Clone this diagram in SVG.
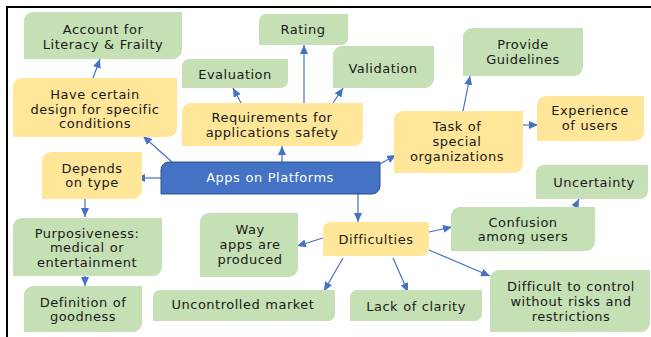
<svg xmlns="http://www.w3.org/2000/svg" width="651" height="337" viewBox="0 0 651 337">
  <style>
    .g { fill: #C5E0B4; }
    .y { fill: #FFE699; }
    .b { fill: #4472C4; stroke: #2F528F; stroke-width: 1; }
    text { font-family: "DejaVu Sans", Verdana, sans-serif; font-size: 13px; fill: #1a1a1a; text-anchor: middle; letter-spacing: 0.5px; word-spacing: 0.5px; }
    .w { fill: #ffffff; }
    .c { fill: none; stroke: #4472C4; stroke-width: 1.2; marker-end: url(#ah); }
  </style>
  <defs>
    <marker id="ah" markerUnits="userSpaceOnUse" markerWidth="9" markerHeight="8" refX="9" refY="4" orient="auto">
      <path d="M0,0 L9,4 L0,8 Z" fill="#4472C4"/>
    </marker>
  </defs>
  <rect width="651" height="337" fill="#ffffff"/>
  <!-- frame -->
  <path d="M6 7 H651 M7 6 V337" fill="none" stroke="#000" stroke-width="2"/>

  <g id="connectors">
    <path class="c" d="M93 78 L100 59"/>
    <path class="c" d="M172 162 L143 136"/>
    <path class="c" d="M241 103 L233 88"/>
    <path class="c" d="M304 103 L304 45"/>
    <path class="c" d="M333 103 L343 88"/>
    <path class="c" d="M282 162 L282 146"/>
    <path class="c" d="M161 178 L136 178"/>
    <path class="c" d="M380 164 L396 155"/>
    <path class="c" d="M358 194 L358 222"/>
    <path class="c" d="M85 199 L85 217"/>
    <path class="c" d="M85 276 L85 286"/>
    <path class="c" d="M323 238 L297 246"/>
    <path class="c" d="M343 258 L324 291"/>
    <path class="c" d="M393 258 L408 292"/>
    <path class="c" d="M429 250 L490 276"/>
    <path class="c" d="M429 232 L452 227"/>
    <path class="c" d="M575 207 L579 199"/>
    <path class="c" d="M463 111 L470 76"/>
    <path class="c" d="M523 125 L538 125"/>
  </g>

  <g id="account">
    <path class="g" d="M33 12 H182 V50 A9 9 0 0 1 173 59 H24 V21 A9 9 0 0 1 33 12Z"/>
    <text x="103" y="34">Account for</text>
    <text x="103" y="49">Literacy &amp; Frailty</text>
  </g>
  <g id="design">
    <path class="y" d="M22 78 H177 V128 A9 9 0 0 1 168 137 H13 V87 A9 9 0 0 1 22 78Z"/>
    <text x="95" y="99">Have certain</text>
    <text x="95" y="113.5">design for specific</text>
    <text x="95" y="128">conditions</text>
  </g>
  <g id="evaluation">
    <path class="g" d="M189 59 H288 V81 A7 7 0 0 1 281 88 H182 V66 A7 7 0 0 1 189 59Z"/>
    <text x="235" y="79">Evaluation</text>
  </g>
  <g id="rating">
    <path class="g" d="M266 14 H348 V38 A7 7 0 0 1 341 45 H259 V21 A7 7 0 0 1 266 14Z"/>
    <text x="303" y="34">Rating</text>
  </g>
  <g id="validation">
    <path class="g" d="M342 46 H434 V79 A9 9 0 0 1 425 88 H333 V55 A9 9 0 0 1 342 46Z"/>
    <text x="383" y="73">Validation</text>
  </g>
  <g id="requirements">
    <path class="y" d="M191 103 H363 V137 A9 9 0 0 1 354 146 H182 V112 A9 9 0 0 1 191 103Z"/>
    <text x="272" y="122">Requirements for</text>
    <text x="272" y="137">applications safety</text>
  </g>
  <g id="apps">
    <path class="b" d="M169 162 H380 V186 A8 8 0 0 1 372 194 H161 V170 A8 8 0 0 1 169 162Z"/>
    <text class="w" x="270" y="182">Apps on Platforms</text>
  </g>
  <g id="depends">
    <path class="y" d="M51 152 H142 V190 A9 9 0 0 1 133 199 H42 V161 A9 9 0 0 1 51 152Z"/>
    <text x="92" y="173">Depends</text>
    <text x="92" y="187">on type</text>
  </g>
  <g id="purposiveness">
    <path class="g" d="M22 218 H162 V267 A9 9 0 0 1 153 276 H13 V227 A9 9 0 0 1 22 218Z"/>
    <text x="87" y="238">Purposiveness:</text>
    <text x="87" y="252">medical or</text>
    <text x="87" y="267">entertainment</text>
  </g>
  <g id="definition">
    <path class="g" d="M33 286 H142 V323 A9 9 0 0 1 133 332 H24 V295 A9 9 0 0 1 33 286Z"/>
    <text x="83" y="307">Definition of</text>
    <text x="83" y="321">goodness</text>
  </g>
  <g id="way">
    <path class="g" d="M209 213 H298 V268 A9 9 0 0 1 289 277 H200 V222 A9 9 0 0 1 209 213Z"/>
    <text x="250" y="234">Way</text>
    <text x="250" y="249">apps are</text>
    <text x="250" y="264">produced</text>
  </g>
  <g id="uncontrolled">
    <path class="g" d="M160 290 H335 V314 A7 7 0 0 1 328 321 H153 V297 A7 7 0 0 1 160 290Z"/>
    <text x="243" y="309">Uncontrolled market</text>
  </g>
  <g id="difficulties">
    <path class="y" d="M331 222 H429 V248 A8 8 0 0 1 421 256 H323 V230 A8 8 0 0 1 331 222Z"/>
    <text x="376" y="244">Difficulties</text>
  </g>
  <g id="clarity">
    <path class="g" d="M357 290 H482 V314 A7 7 0 0 1 475 321 H350 V297 A7 7 0 0 1 357 290Z"/>
    <text x="416" y="311">Lack of clarity</text>
  </g>
  <g id="control">
    <path class="g" d="M499 270 H650 V323 A9 9 0 0 1 641 332 H490 V279 A9 9 0 0 1 499 270Z"/>
    <text x="571" y="291">Difficult to control</text>
    <text x="571" y="306">without risks and</text>
    <text x="571" y="321">restrictions</text>
  </g>
  <g id="confusion">
    <path class="g" d="M460 207 H595 V242 A9 9 0 0 1 586 251 H451 V216 A9 9 0 0 1 460 207Z"/>
    <text x="523" y="227">Confusion</text>
    <text x="523" y="241">among users</text>
  </g>
  <g id="uncertainty">
    <path class="g" d="M544 165 H648 V191 A8 8 0 0 1 640 199 H536 V173 A8 8 0 0 1 544 165Z"/>
    <text x="594" y="187">Uncertainty</text>
  </g>
  <g id="task">
    <path class="y" d="M403 111 H523 V164 A9 9 0 0 1 514 173 H394 V120 A9 9 0 0 1 403 111Z"/>
    <text x="457" y="131">Task of</text>
    <text x="457" y="146">special</text>
    <text x="457" y="161">organizations</text>
  </g>
  <g id="guidelines">
    <path class="g" d="M472 28 H583 V67 A9 9 0 0 1 574 76 H463 V37 A9 9 0 0 1 472 28Z"/>
    <text x="523" y="49">Provide</text>
    <text x="523" y="64">Guidelines</text>
  </g>
  <g id="experience">
    <path class="y" d="M546 96 H644 V132 A9 9 0 0 1 635 141 H537 V105 A9 9 0 0 1 546 96Z"/>
    <text x="590" y="115">Experience</text>
    <text x="590" y="130">of users</text>
  </g>
</svg>
